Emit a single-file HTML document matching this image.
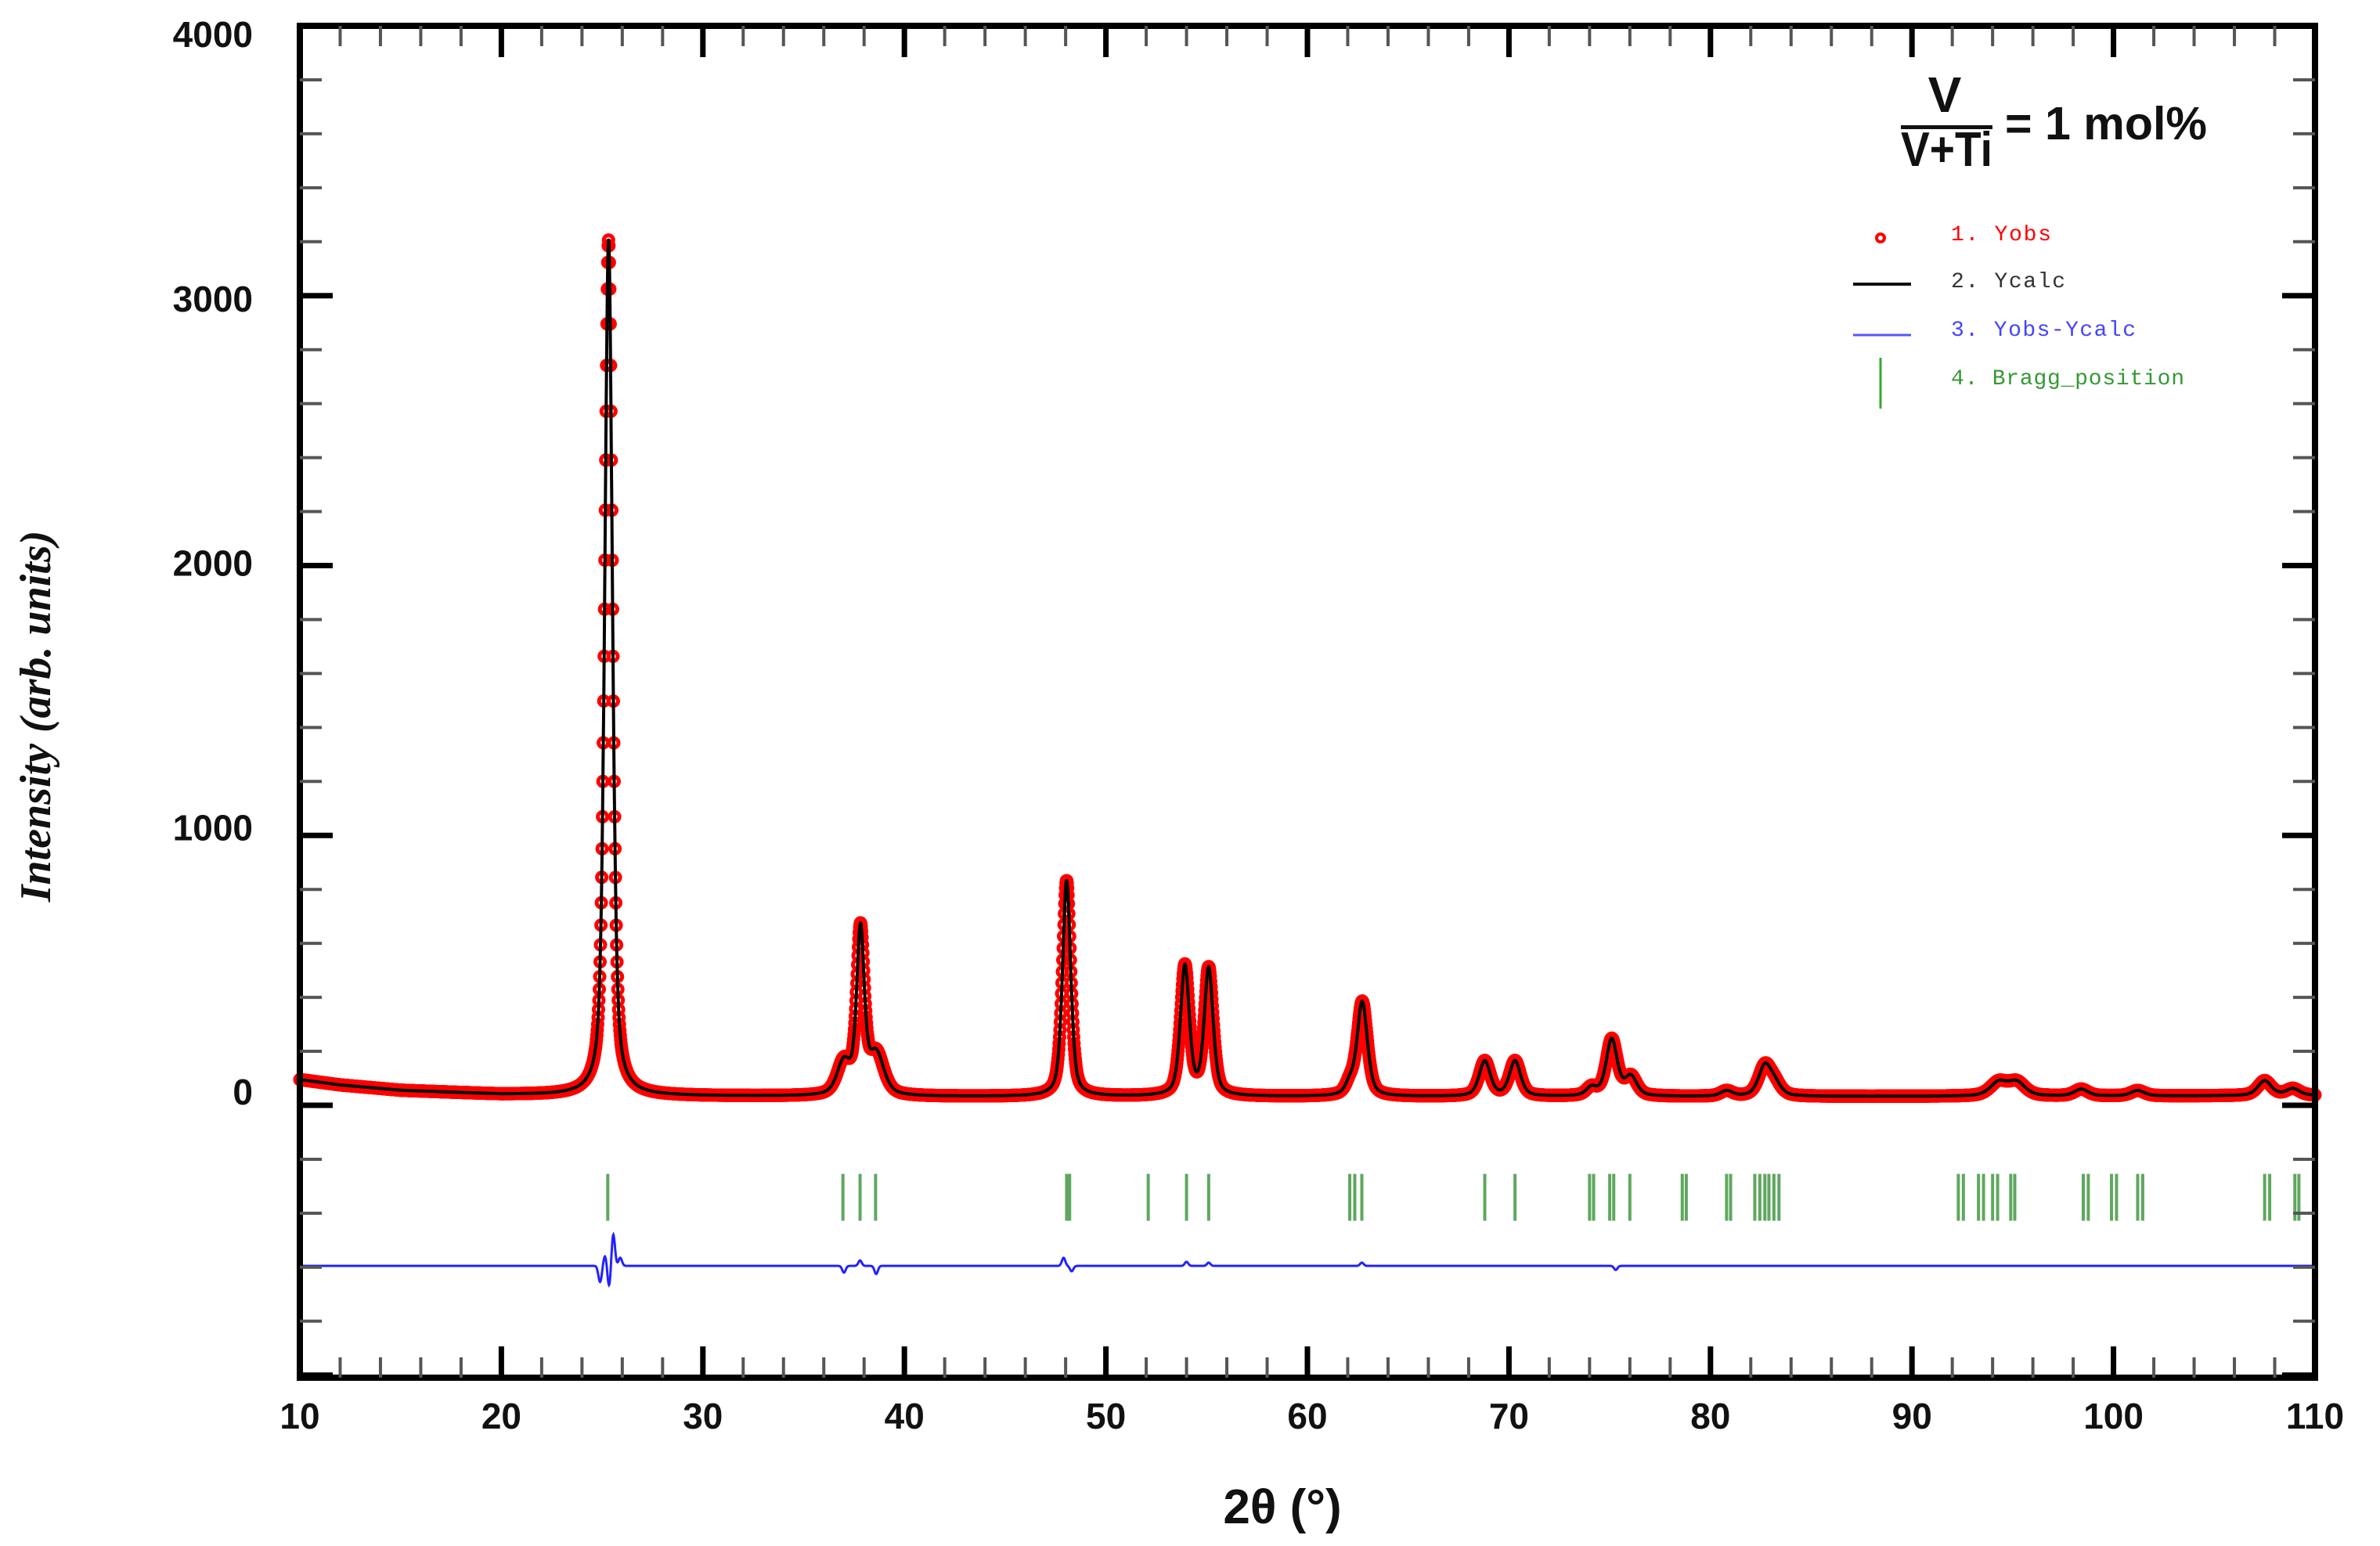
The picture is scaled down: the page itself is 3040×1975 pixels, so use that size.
<!DOCTYPE html>
<html><head><meta charset="utf-8"><style>
html,body{margin:0;padding:0;background:#fff;}
svg{display:block;}
</style></head><body>
<svg id="chart" width="3040" height="1975" viewBox="0 0 3040 1975" xmlns="http://www.w3.org/2000/svg">
<rect width="3040" height="1975" fill="#fff"/>
<g id="plot"></g>
<g id="axes"></g>
<text transform="translate(64,915) rotate(-90)" text-anchor="middle" font-family="Liberation Serif, serif" font-style="italic" font-weight="bold" font-size="56" fill="#111">Intensity (arb. units)</text>
<text x="1638" y="1946" text-anchor="middle" font-family="Liberation Sans, sans-serif" font-weight="bold" font-size="62" fill="#111">2θ (°)</text>
<g font-family="Liberation Sans, sans-serif" font-weight="bold" fill="#111" transform="translate(-27,-4)">
<text x="2511" y="147" text-anchor="middle" font-size="64">V</text>
<rect x="2455" y="164" width="117" height="5" fill="#111"/>
<text x="2455" y="216" font-size="62" textLength="117" lengthAdjust="spacingAndGlyphs">V+Ti</text>
<text x="2588" y="182" font-size="59" textLength="258" lengthAdjust="spacingAndGlyphs">= 1 mol%</text>
</g>
<g font-family="Liberation Mono, monospace" font-size="28" transform="translate(-27,-3)">
<g><circle cx="2429" cy="307" r="5" fill="none" stroke="#f00" stroke-width="4"/><text x="2519" y="310" fill="#f00" textLength="128">1. Yobs</text></g>
<g><line x1="2394" y1="366" x2="2468" y2="366" stroke="#111" stroke-width="4"/><text x="2519" y="370" fill="#333" textLength="146">2. Ycalc</text></g>
<g><line x1="2394" y1="431" x2="2468" y2="431" stroke="#55f" stroke-width="3"/><text x="2519" y="432" fill="#44f" textLength="236">3. Yobs-Ycalc</text></g>
<g><line x1="2429" y1="460" x2="2429" y2="525" stroke="#3a3" stroke-width="3"/><text x="2519" y="494" fill="#393" textLength="298">4. Bragg_position</text></g>
</g>
</svg>
<script>
// ---- data ----
const xTicks = [10,20,30,40,50,60,70,80,90,100,110];
const yTicks = [0,1000,2000,3000,4000];
const peakPos    = [25.32,37.0,37.82,38.6,48.05,53.92,55.1,62.1,62.72,68.8,70.3,74.1,75.1,76.05,80.8,82.7,83.2,94.3,95.2,98.4,101.2,107.5,108.9];
const peakHeight = [3170,120,600,150,800,480,470,40,350,130,130,30,210,70,20,110,40,50,50,25,20,55,25];
const peakWidth  = [0.45,0.8,0.45,0.9,0.48,0.52,0.52,0.5,0.6,0.65,0.65,0.6,0.65,0.7,0.7,0.75,0.75,1.0,1.0,0.8,0.8,0.8,0.8];
const bgX = [10,12,15,20,25,30,40,60,80,100,110];
const bgY = [95,75,55,40,36,34,32,32,32,34,36];
const braggPos = [25.28,36.95,37.8,38.57,48.05,48.2,52.1,54.0,55.1,62.1,62.35,62.7,68.8,70.3,74.0,74.2,75.0,75.2,76.0,78.6,78.8,80.8,81.0,82.2,82.45,82.7,82.9,83.15,83.4,92.3,92.55,93.3,93.55,94.0,94.25,94.9,95.1,98.5,98.75,99.9,100.15,101.2,101.45,107.5,107.75,109.0,109.2];
const diffPos = [24.9,25.15,25.35,25.55,25.9,37.0,37.8,38.6,47.9,48.3,54.0,55.1,62.7,75.3];
const diffAmp = [-60,40,-80,120,30,-25,20,-30,30,-20,15,12,12,-15];
const diffBase = -595;

// ---- scales ----
const X0=383, X1=2957, Y4000=33, Y0=1412, YB=1760;
function sx(v){return X0+(v-10)*(X1-X0)/100;}
function sy(v){return Y0-(v/1000)*(Y0-Y4000)/4;}
const NS="http://www.w3.org/2000/svg";
function mk(tag,attrs,parent){const e=document.createElementNS(NS,tag);for(const k in attrs)e.setAttribute(k,attrs[k]);parent.appendChild(e);return e;}
function bg(t){for(let i=0;i<bgX.length-1;i++){if(t<=bgX[i+1]){const f=(t-bgX[i])/(bgX[i+1]-bgX[i]);return bgY[i]+f*(bgY[i+1]-bgY[i]);}}return bgY[bgY.length-1];}
function calc(t){let y=bg(t);for(let i=0;i<peakPos.length;i++){const d=(t-peakPos[i])/(peakWidth[i]/2);const g=Math.exp(-0.693*d*d),l=1/(1+d*d);y+=peakHeight[i]*(0.5*g+0.5*l);}return y;}
function diff(t){let y=diffBase;for(let i=0;i<diffPos.length;i++){const d=(t-diffPos[i])/0.12;y+=diffAmp[i]*Math.exp(-d*d);}return y;}

const plot=document.getElementById('plot');
const axes=document.getElementById('axes');

// observed points
const obsG=mk('g',{},plot);


for(let t=10;t<=110.001;t+=0.02){
  mk('circle',{cx:sx(t).toFixed(1),cy:sy(calc(t)).toFixed(1),r:6,fill:'none',stroke:'#f00','stroke-width':5},obsG);
}
// calc line
let d='';
for(let t=10;t<=110.001;t+=0.02){d+=(d?'L':'M')+sx(t).toFixed(1)+' '+sy(calc(t)).toFixed(1);}
const cl=mk('path',{d:d,fill:'none',stroke:'#000','stroke-width':4,'stroke-linejoin':'round'},plot);


// diff line
let dd='';
for(let t=10;t<=110.001;t+=0.02){dd+=(dd?'L':'M')+sx(t).toFixed(1)+' '+sy(diff(t)).toFixed(1);}
const dl=mk('path',{d:dd,fill:'none',stroke:'#22f','stroke-width':3},plot);


// bragg ticks
const bgG=mk('g',{},plot);


braggPos.forEach(p=>{
  const l=mk('line',{x1:sx(p),x2:sx(p),y1:sy(-254),y2:sy(-428),stroke:'#2a8a2a','stroke-width':4,'stroke-opacity':0.75},bgG);
  
  
});

// frame
const fr=mk('rect',{x:X0,y:Y4000,width:X1-X0,height:YB-Y4000,fill:'none',stroke:'#000','stroke-width':8},axes);


// x ticks
for(let v=10;v<=110;v+=2){
  const major=(v%10===0);
  const L=major?40:26, w=major?7:4, col=major?'#000':'#555';
  mk('line',{x1:sx(v),x2:sx(v),y1:YB,y2:YB-L,stroke:col,'stroke-width':w},axes);
  mk('line',{x1:sx(v),x2:sx(v),y1:Y4000,y2:Y4000+L,stroke:col,'stroke-width':w},axes);
}
xTicks.forEach(v=>{
  const t=mk('text',{x:sx(v),y:1825,'text-anchor':'middle','font-family':'Liberation Sans, sans-serif','font-weight':'bold','font-size':46,fill:'#111'},axes);
  t.textContent=v;
  
  
});
// y ticks
for(let v=-1000;v<=4000;v+=200){
  const y=sy(v); if(y>YB-2||y<Y4000-1) continue;
  const major=(v%1000===0);
  const L=major?42:28, w=major?7:4, col=major?'#000':'#555';
  mk('line',{x1:X0,x2:X0+L,y1:y,y2:y,stroke:col,'stroke-width':w},axes);
  mk('line',{x1:X1,x2:X1-L,y1:y,y2:y,stroke:col,'stroke-width':w},axes);
}
yTicks.forEach(v=>{
  const t=mk('text',{x:323,y:sy(v)+16-17+7*v/1000,'text-anchor':'end','font-family':'Liberation Sans, sans-serif','font-weight':'bold','font-size':46,fill:'#111'},axes);
  t.textContent=v;
  
  
});
</script>
</body></html>
